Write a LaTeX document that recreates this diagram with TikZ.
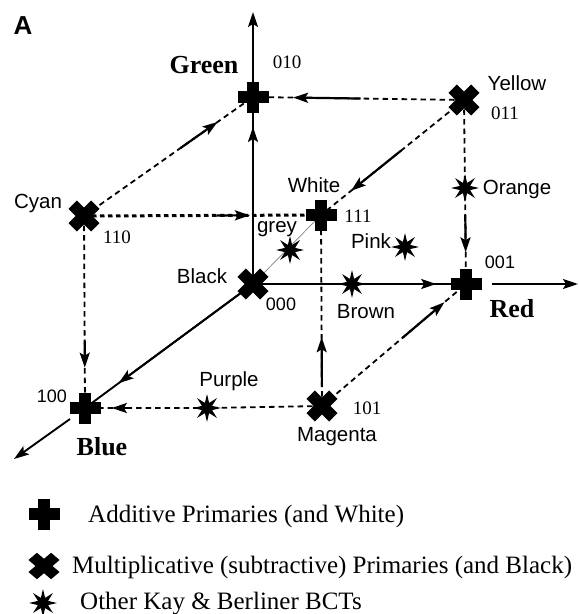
\documentclass[tikz,border=0pt]{standalone}
\usepackage{fontspec}
\setmainfont{Liberation Serif}
\setsansfont{Liberation Sans}
\usetikzlibrary{arrows.meta,calc}
\tikzset{
  pics/plussym/.style={code={\fill (-15.5,-5.8) rectangle (15.5,5.8); \fill (-5.8,-15.5) rectangle (5.8,15.5);}},
  pics/xsym/.style={code={\fill[rotate=45] (-16,-6) rectangle (16,6); \fill[rotate=45] (-6,-16) rectangle (6,16);}},
  pics/starsym/.style={code={\fill (0:14) \foreach \a in {45,90,...,315}{ -- (\a-22.5:5.5) -- (\a:14)} -- (337.5:5.5) -- cycle;}},
}
\begin{document}
\begin{tikzpicture}[x=1pt,y=-1pt,
  axis/.style={line width=1.9pt},
  axarr/.style={line width=1.9pt, -{Stealth[length=15pt,width=10pt,inset=3pt]}},
  dsh/.style={line width=1.8pt, dash pattern=on 5.5pt off 4pt},
  thickdsh/.style={line width=3pt, dash pattern=on 4.5pt off 3.5pt},
  marr/.style={line width=2.2pt, -{Stealth[length=15pt,width=10pt,inset=3pt]}},
  sanslab/.style={font=\sffamily\fontsize{20.5}{22}\selectfont, anchor=base, inner sep=0},
  sansnum/.style={font=\sffamily\fontsize{18}{19}\selectfont, anchor=base, inner sep=0},
  serifnum/.style={font=\rmfamily\fontsize{19}{20}\selectfont, anchor=base, inner sep=0},
  boldlab/.style={font=\rmfamily\bfseries\fontsize{26}{28}\selectfont, anchor=base, inner sep=0},
  legtext/.style={font=\rmfamily\fontsize{25}{27}\selectfont, anchor=base west, inner sep=0},
]
\useasboundingbox (0,0) rectangle (579,614);

% vertices
\coordinate (black) at (253,284);
\coordinate (green) at (253,97);
\coordinate (ytip) at (253,12);
\coordinate (red) at (466,284);
\coordinate (redout) at (492,284);
\coordinate (xtip) at (578,284);
\coordinate (blue) at (85,408);
\coordinate (blueout) at (70,419);
\coordinate (ztip) at (14,459);
\coordinate (white) at (321,215);
\coordinate (yellow) at (464,100);
\coordinate (cyan) at (84,216);
\coordinate (magenta) at (322,406);
\coordinate (orange) at (465,188);
\coordinate (grey) at (290,250);
\coordinate (pink) at (405,247);
\coordinate (brown) at (352,284);
\coordinate (purple) at (207,408);

% axes
\draw[gray, line width=0.7pt] (black) -- (white);
\draw[axis] (black) -- (green);
\draw[axarr] (black) -- ($(black)!0.84!(green)$);
\draw[axarr] (green) -- (ytip);
\draw[axis] (black) -- (red);
\draw[axarr] (black) -- ($(black)!0.86!(red)$);
\draw[axarr] (redout) -- (xtip);
\draw[axis] (black) -- (blue);
\draw[axarr] (black) -- ($(black)!0.80!(blue)$);
\draw[axarr] (blueout) -- (ztip);

% cube edges
\draw[dsh] (cyan) -- (green);
\draw[marr] ($(cyan)!0.57!(green)$) -- ($(cyan)!0.79!(green)$);
\draw[dsh] (yellow) -- (green);
\draw[marr] ($(yellow)!0.49!(green)$) -- ($(yellow)!0.81!(green)$);
\draw[dsh] (yellow) -- (white);
\draw[marr] ($(yellow)!0.44!(white)$) -- ($(yellow)!0.79!(white)$);
\draw[dsh] (yellow) -- (orange) -- (red);
\draw[marr] ($(orange)!0.28!(red)$) -- ($(orange)!0.67!(red)$);
\draw[thickdsh] (cyan) -- (white);
\draw[marr] ($(cyan)!0.56!(white)$) -- ($(cyan)!0.70!(white)$);
\draw[dsh] (cyan) -- (blue);
\draw[marr] ($(cyan)!0.65!(blue)$) -- ($(cyan)!0.79!(blue)$);
\draw[dsh] (magenta) -- (white);
\draw[marr] ($(magenta)!0.10!(white)$) -- ($(magenta)!0.36!(white)$);
\draw[dsh] (magenta) -- (red);
\draw[marr] ($(magenta)!0.56!(red)$) -- ($(magenta)!0.85!(red)$);
\draw[dsh] (magenta) -- (purple) -- (blue);
\draw[marr] ($(purple)!0.62!(blue)$) -- ($(purple)!0.78!(blue)$);

% symbols
\pic at (green) {plussym};
\pic at (red) {plussym};
\pic at (blue) {plussym};
\pic at (white) {plussym};
\pic at (yellow) {xsym};
\pic at (cyan) {xsym};
\pic at (black) {xsym};
\pic at (magenta) {xsym};
\pic at (orange) {starsym};
\pic at (grey) {starsym};
\pic at (pink) {starsym};
\pic at (brown) {starsym};
\pic at (purple) {starsym};

% labels
\node[font=\sffamily\bfseries\fontsize{26}{28}\selectfont, anchor=base, inner sep=0] (lA) at (23,34) {A};
\node[boldlab] (lgreen) at (204,73) {Green};
\node[serifnum] (n010) at (287,68) {010};
\node[sanslab] (lyellow) at (517,90) {Yellow};
\node[serifnum] (n011) at (505,119) {011};
\node[sanslab] (lwhite) at (314,192) {White};
\node[serifnum] (n111) at (358,222) {111};
\node[sanslab] (lorange) at (517,194) {Orange};
\node[sanslab] (lcyan) at (38,208) {Cyan};
\node[serifnum] (n110) at (117,243) {110};
\node[sanslab] (lgrey) at (277,232) {grey};
\node[sanslab] (lpink) at (371,248) {Pink};
\node[sanslab] (lblack) at (202,283) {Black};
\node[sansnum] (n000) at (281,310) {000};
\node[sansnum] (n001) at (500,268) {001};
\node[boldlab] (lred) at (512,317) {Red};
\node[sanslab] (lbrown) at (366,318) {Brown};
\node[sanslab] (lpurple) at (229,386) {Purple};
\node[sansnum] (n100) at (52,402) {100};
\node[boldlab] (lblue) at (102,455) {Blue};
\node[sanslab] (lmagenta) at (337,441) {Magenta};
\node[serifnum] (n101) at (367,414) {101};

% legend
\coordinate (kplus) at (44,514);
\coordinate (kx) at (44,566);
\coordinate (kstar) at (43,603);
\pic at (kplus) {plussym};
\pic[yscale=0.85] at (kx) {xsym};
\pic at (kstar) {starsym};
\node[legtext] (t1) at (88,522) {Additive Primaries (and White)};
\node[legtext] (t2) at (72,573) {Multiplicative (subtractive) Primaries (and Black)};
\node[legtext] (t3) at (80,609) {Other Kay \& Berliner BCTs};
\end{tikzpicture}
\end{document}
